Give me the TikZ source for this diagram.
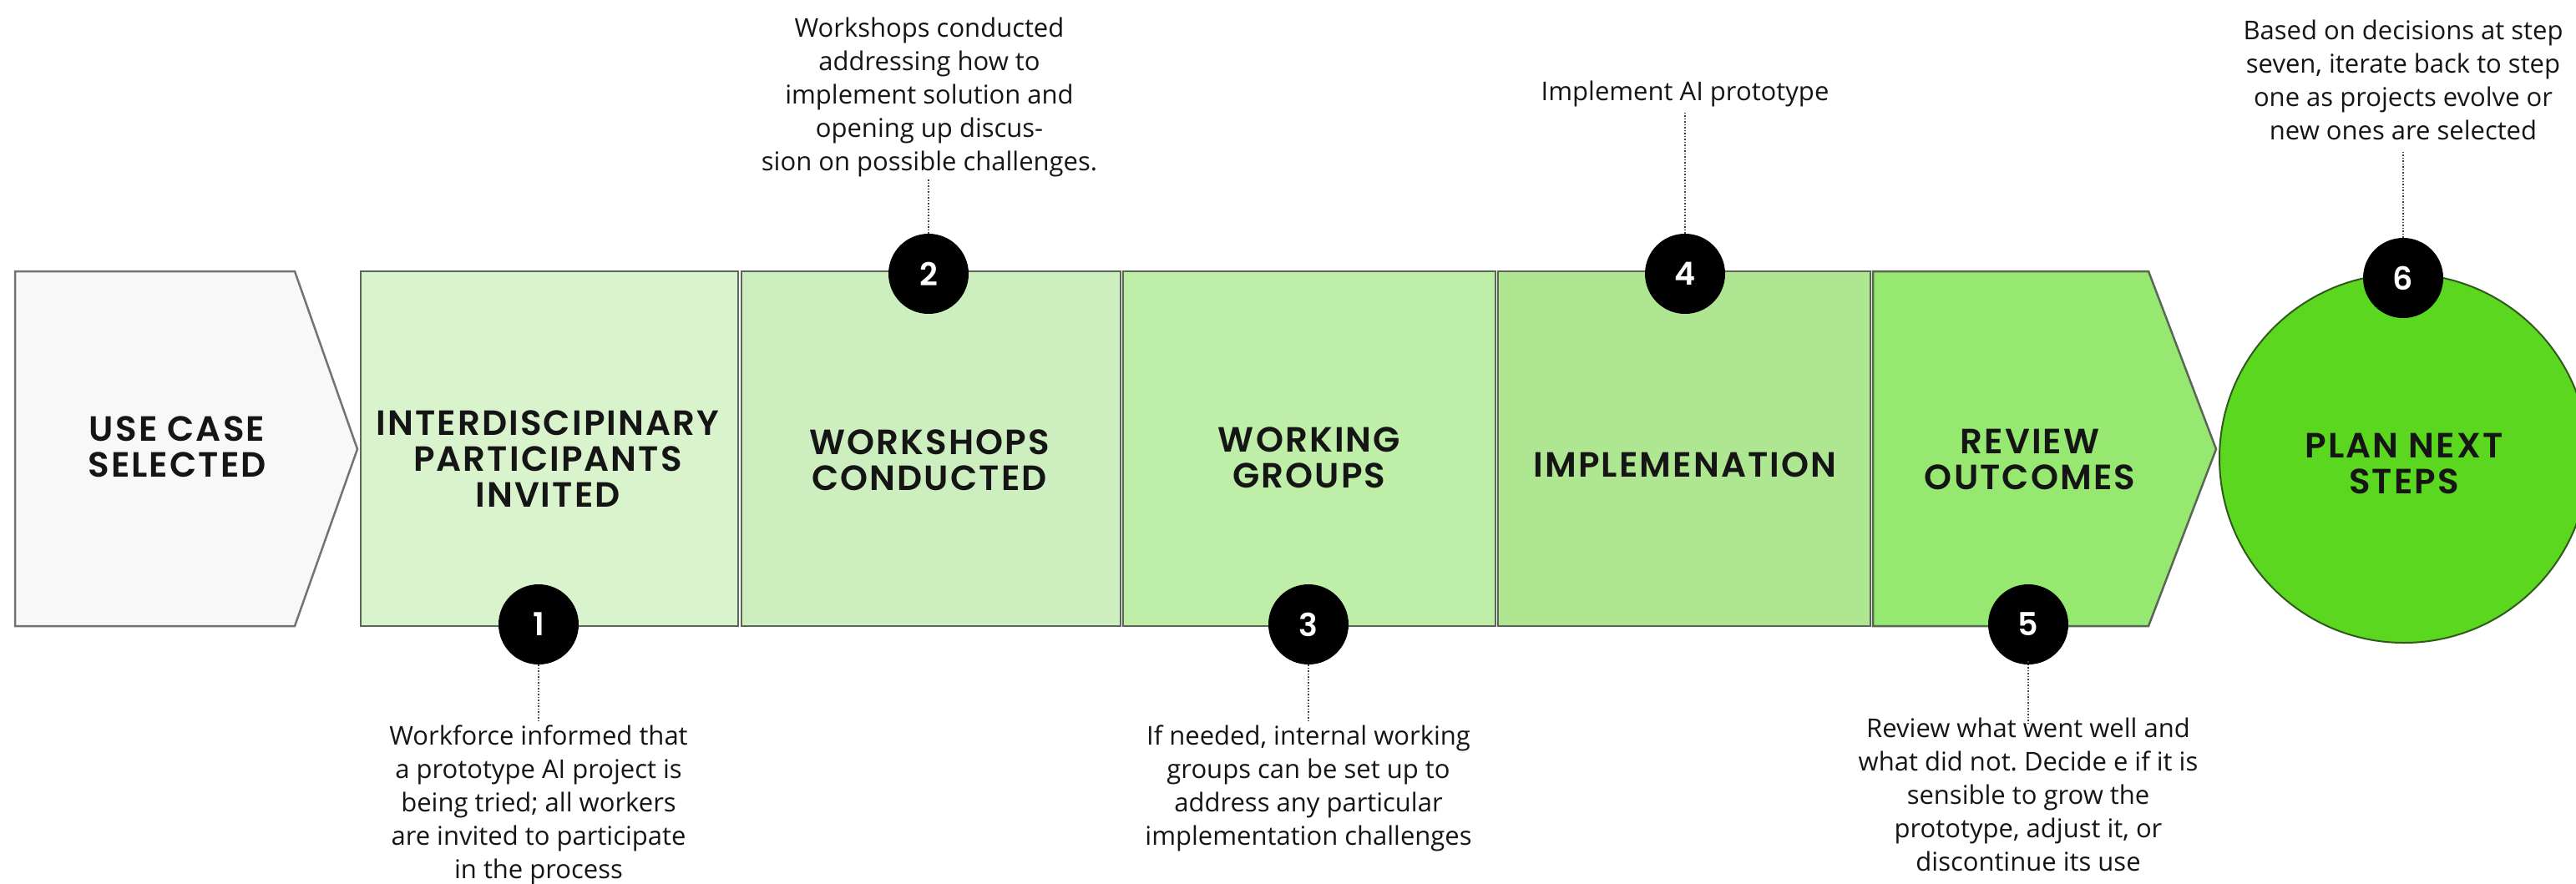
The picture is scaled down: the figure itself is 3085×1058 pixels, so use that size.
\documentclass[tikz,border=0pt]{standalone}
\usepackage{fontspec}
\setmainfont{Open Sans}
\newfontfamily\headfont{Poppins SemiBold}[LetterSpace=5]
\newfontfamily\digitfont{Poppins SemiBold}
\frenchspacing
\definecolor{edge}{HTML}{5A6757}
\definecolor{ink}{HTML}{151515}
\definecolor{usecase}{HTML}{F8F8F8}
\definecolor{stageA}{HTML}{D9F3CD}
\definecolor{stageB}{HTML}{CDEFBF}
\definecolor{stageC}{HTML}{BFEEA9}
\definecolor{stageD}{HTML}{AEE692}
\definecolor{stageE}{HTML}{97E870}
\definecolor{planfill}{HTML}{5BD71F}
\definecolor{planedge}{HTML}{2F5A1C}
\begin{document}
\begin{tikzpicture}[x=1pt,y=-1pt,
  stagebox/.style={draw=edge, line width=2.5pt},
  stagelabel/.style={align=center, text=ink, inner sep=0pt,
    font=\headfont\fontsize{42}{43}\selectfont},
  stepbadge/.style={circle, fill=black, minimum size=96pt, inner sep=0pt,
    text=white, font=\digitfont\fontsize{38}{38}\selectfont},
  stepnote/.style={align=center, text=ink, inner sep=0pt,
    font=\fontsize{31}{40}\selectfont},
  leaderline/.style={draw=black!75, dotted, line width=1.5pt}]

\clip (0,0) rectangle (3085,1058);
\fill[white] (0,0) rectangle (3085,1058);

% process stages
\path[stagebox, fill=usecase, draw=black!55] (18,325) -- (353,325) -- (428,538) -- (353,750) -- (18,750) -- cycle;
\path[stagebox, fill=stageA] (432,325) rectangle (884,750);
\path[stagebox, fill=stageB] (888,325) rectangle (1342,750);
\path[stagebox, fill=stageC] (1345,325) rectangle (1791,750);
\path[stagebox, fill=stageD] (1794,325) rectangle (2240,750);
\path[stagebox, fill=stageE] (2243,325) -- (2573,325) -- (2654,538) -- (2573,750) -- (2243,750) -- cycle;
\path[draw=planedge, line width=2pt, fill=planfill] (2879,549) circle[radius=221];

% stage titles
\node[stagelabel] (t0) at (212,535) {USE CASE\\SELECTED};
\node[stagelabel] (t1) at (656,550) {INTERDISCIPINARY\\PARTICIPANTS\\INVITED};
\node[stagelabel] (t2) at (1113,551) {WORKSHOPS\\CONDUCTED};
\node[stagelabel] (t3) at (1568,548) {WORKING\\GROUPS};
\node[stagelabel] (t4) at (2018,557) {IMPLEMENATION};
\node[stagelabel] (t5) at (2431,550) {REVIEW\\OUTCOMES};
\node[stagelabel] (t6) at (2879,555) {PLAN NEXT\\STEPS};

% numbered badges
\node[stepbadge] (b1) at (645,748) {1};
\node[stepbadge] (b2) at (1112,328) {2};
\node[stepbadge] (b3) at (1567,748) {3};
\node[stepbadge] (b4) at (2018,328) {4};
\node[stepbadge] (b5) at (2429,748) {5};
\node[stepbadge] (b6) at (2878,333) {6};

% explanatory notes
\node[stepnote, anchor=north] (n1) at (645,869) {Workforce informed that\\a prototype AI project is\\being tried; all workers\\are invited to participate\\in the process};
\node[stepnote, anchor=north] (n2) at (1113,21) {Workshops conducted\\addressing how to\\implement solution and\\opening up discus-\\sion on possible challenges.};
\node[stepnote, anchor=north] (n3) at (1567,869) {If needed, internal working\\groups can be set up to\\address any particular\\implementation challenges};
\node[stepnote, anchor=north] (n4) at (2018,97) {Implement AI prototype};
\node[stepnote, anchor=north] (n5) at (2429,860) {Review what went well and\\what did not. Decide e if it is\\sensible to grow the\\prototype, adjust it, or\\discontinue its use};
\node[stepnote, anchor=north] (n6) at (2878,24) {Based on decisions at step\\seven, iterate back to step\\one as projects evolve or\\new ones are selected};

% leader lines
\coordinate (e1) at (645,866);
\coordinate (e2) at (1112,215);
\coordinate (e3) at (1567,866);
\coordinate (e4) at (2018,133);
\coordinate (e5) at (2429,866);
\coordinate (e6) at (2878,180);
\draw[leaderline] (b1.south) -- (e1);
\draw[leaderline] (b2.north) -- (e2);
\draw[leaderline] (b3.south) -- (e3);
\draw[leaderline] (b4.north) -- (e4);
\draw[leaderline] ([yshift=4pt]b5.south) -- (e5);
\draw[leaderline] (b6.north) -- (e6);
\end{tikzpicture}
\end{document}
